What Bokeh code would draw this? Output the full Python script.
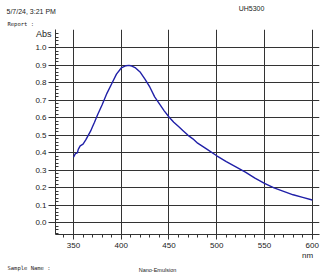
from bokeh.plotting import figure
from bokeh.models import FixedTicker, PrintfTickFormatter, Range1d, LinearAxis, Title
from bokeh.embed import file_html
from bokeh.resources import INLINE

# Spectrum (wavelength nm, absorbance)
wavelength = [350, 352, 354, 355, 357, 360, 363, 365, 368, 370, 372, 375, 380, 385, 390, 395,
              400, 405, 408, 410, 415, 420, 425, 430, 435, 440, 445, 450, 455, 460, 465, 470,
              475, 480, 490, 500, 510, 520, 530, 540, 550, 560, 570, 580, 590, 600]
absorbance = [0.375, 0.395, 0.40, 0.42, 0.44, 0.45, 0.475, 0.495, 0.525, 0.55, 0.575, 0.615, 0.675,
              0.74, 0.795, 0.85, 0.885, 0.898, 0.90, 0.898, 0.885, 0.86, 0.82, 0.775, 0.72, 0.68,
              0.64, 0.605, 0.575, 0.55, 0.525, 0.50, 0.48, 0.455, 0.42, 0.383, 0.35, 0.32, 0.29,
              0.255, 0.225, 0.20, 0.18, 0.16, 0.145, 0.13]

x_ticks = [350, 400, 450, 500, 550, 600]
y_ticks = [0.0, 0.1, 0.2, 0.3, 0.4, 0.5, 0.6, 0.7, 0.8, 0.9, 1.0]
x_minor = [v for v in range(340, 610, 10) if v % 50 != 0]
y_minor = [round(i * 0.02, 2) for i in range(-3, 55) if i % 5 != 0]

header_left = "5/7/24, 3:21 PM"
header_right = "UH5300"
report_text = "Report :"
y_title = "Abs"
x_title = "nm"
sample_label = "Sample Name :"
sample_name = "Nano-Emulsion"

FONT = "Liberation Sans"
MONO = "DejaVu Sans Mono"
TXT = "#222222"

p = figure(width=332, height=279, output_backend="svg", toolbar_location=None,
           x_range=Range1d(331.15, 607.6), y_range=Range1d(-0.067, 1.105),
           min_border_left=55, min_border_right=13, min_border_top=29, min_border_bottom=45,
           title_location=None)
p.outline_line_color = None
p.background_fill_color = "white"
p.border_fill_color = "white"
# pixel-like helper ranges used only to position text-only axes
p.extra_x_ranges = {"px": Range1d(55, 319)}
p.extra_y_ranges = {"pxy": Range1d(234, 29)}

p.line(wavelength, absorbance, line_color="#2020a8", line_width=1.4)

for ax, ticks, minor in ((p.xaxis[0], x_ticks, x_minor), (p.yaxis[0], y_ticks, y_minor)):
    ax.ticker = FixedTicker(ticks=ticks, minor_ticks=minor)
    ax.axis_line_color = "#333333"
    ax.major_tick_line_color = "#333333"
    ax.minor_tick_line_color = "#333333"
    ax.major_label_text_font = FONT
    ax.major_label_text_font_size = "8px"
    ax.major_label_text_color = TXT

p.yaxis.formatter = PrintfTickFormatter(format="%.1f")
p.yaxis.major_tick_out = 7
p.yaxis.major_tick_in = 0
p.yaxis.minor_tick_in = 3
p.yaxis.minor_tick_out = 0
p.yaxis.major_label_standoff = 2

p.xaxis.major_tick_out = 5
p.xaxis.major_tick_in = 0
p.xaxis.minor_tick_out = 3
p.xaxis.minor_tick_in = 0
p.xaxis.major_label_standoff = 3

p.xgrid.grid_line_color = "#333333"
p.ygrid.grid_line_color = "#333333"
p.xgrid.grid_line_width = 1
p.ygrid.grid_line_width = 1


def text_axis(side, labels, size, font=FONT, standoff=0):
    rng = {"x_range_name": "px"} if side in ("above", "below") else {"y_range_name": "pxy"}
    ticks = list(labels.keys())
    ax = LinearAxis(ticker=FixedTicker(ticks=ticks, minor_ticks=[]),
                    major_label_overrides={k: v for k, v in labels.items()},
                    axis_line_color=None, major_tick_line_color=None, minor_tick_line_color=None,
                    major_tick_in=0, major_tick_out=0, minor_tick_in=0, minor_tick_out=0,
                    major_label_standoff=standoff, major_label_text_font=font,
                    major_label_text_font_size=size, major_label_text_color=TXT, **rng)
    p.add_layout(ax, side)
    return ax


def text_title(side, text, size, x, font=FONT, standoff=0, valign="bottom"):
    t = Title(text=text, align="left", offset=x - 55, standoff=standoff, vertical_align=valign,
              text_font=font, text_font_size=size, text_color=TXT, text_font_style="normal")
    p.add_layout(t, side)
    return t


# header (first added sits closest to the plot)
text_title("above", report_text, "5.5px", 7, MONO, standoff=5)
text_title("above", header_left, "7px", 6, FONT, standoff=4)
text_axis("above", {251: header_right}, "7px", FONT, standoff=-8)
# y title
text_axis("left", {33: y_title}, "9px", FONT, standoff=-19)
# x title and footer
text_axis("below", {307: x_title}, "8px", FONT, standoff=0)
text_title("below", sample_label, "5.5px", 7, MONO, standoff=5, valign="top")
text_axis("below", {157: sample_name}, "5.5px", FONT, standoff=-9)

open("out.html", "w").write(file_html(p, INLINE))
